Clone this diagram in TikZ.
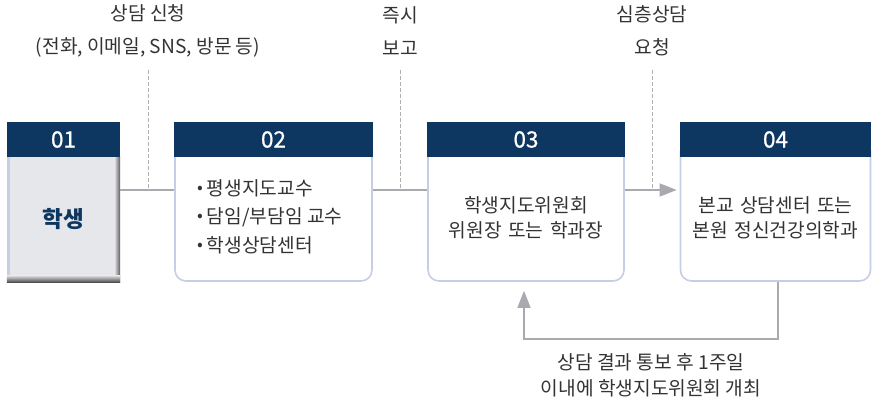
\documentclass[tikz,border=0pt]{standalone}
\usepackage{fontspec}
\setmainfont{Noto Sans CJK KR}
\newfontfamily\numfont{Noto Sans CJK KR}[FakeBold=0.8]
\usetikzlibrary{arrows.meta,calc}
\definecolor{navy}{RGB}{13,54,96}
\definecolor{txt}{RGB}{51,51,51}
\definecolor{rim}{RGB}{200,205,230}
\definecolor{conn}{RGB}{168,170,176}
\definecolor{dashc}{RGB}{175,175,175}
\definecolor{greyfill}{RGB}{230,231,235}
\newcommand{\bul}{{\fontsize{17}{17}\selectfont\raisebox{1.5pt}{•}}\hspace{4pt}}
\tikzset{
  hdr/.style={fill=navy, text=white, minimum height=35pt, inner sep=0pt, font=\numfont\fontsize{22.5}{24}\selectfont},
  bodybox/.style={draw=rim, line width=1.6pt, fill=white, rounded corners=11pt, inner sep=0pt, minimum height=141pt},
  conline/.style={draw=conn, line width=1.4pt},
  dashline/.style={draw=dashc, line width=0.9pt, dash pattern=on 3.5pt off 2.5pt},
  lbl/.style={text=txt, align=center, font=\fontsize{19.2}{33}\selectfont, inner sep=0pt},
  btxt/.style={text=txt, font=\fontsize{19.2}{28}\selectfont, inner sep=0pt},
  tip/.style={-{Triangle[length=17pt,width=13pt]}}
}
\begin{document}
\begin{tikzpicture}[x=1pt,y=-1pt]
\useasboundingbox (0,0) rectangle (873,402);
% box 01
\node[fill=greyfill, minimum width=113pt, minimum height=125pt, inner sep=0pt] (b1) at (63.5,219.5) {};
\shade[left color=greyfill, right color=black!65] ($(b1.north east)+(-6,0)$) rectangle (b1.south east);
\shade[top color=greyfill, bottom color=black!70] ($(b1.south west)+(0,-7)$) rectangle (b1.south east);
\fill[rim] (b1.north west) rectangle ($(b1.south west)+(3,-7)$);
\node[text=navy, font=\fontsize{22.5}{26}\selectfont\bfseries] (t1) at (b1.center) {학생};
\node[hdr, minimum width=113pt] (h1) at (63.5,139.5) {01};
% box 02
\node[bodybox, minimum width=197pt] (b2) at (273.5,210.5) {};
\node[hdr, minimum width=198.6pt] (h2) at (273.5,139.5) {02};
\node[btxt, anchor=west] (t2a) at (197,188) {\bul 평생지도교수};
\node[btxt, anchor=west] (t2b) at (197,217) {\bul 담임/부담임 교수};
\node[btxt, anchor=west] (t2c) at (197,245) {\bul 학생상담센터};
% box 03
\node[bodybox, minimum width=196pt] (b3) at (526,210.5) {};
\node[hdr, minimum width=197.6pt] (h3) at (526,139.5) {03};
\node[lbl, text width=190pt, font=\fontsize{19.2}{25}\selectfont] (t3) at (526,218) {학생지도위원회\\위원장 또는 학과장};
% box 04
\node[bodybox, minimum width=190pt] (b4) at (775.5,210.5) {};
\node[hdr, minimum width=191.6pt] (h4) at (775.5,139.5) {04};
\node[lbl, text width=190pt, font=\fontsize{19.2}{25}\selectfont] (t4) at (775.5,218) {본교 상담센터 또는\\본원 정신건강의학과};
% connectors
\draw[conline] (b1.east |- 0,190) -- (b2.west |- 0,190);
\draw[conline] (b2.east |- 0,190) -- (b3.west |- 0,190);
\draw[conline, tip] (b3.east |- 0,190) -- ($(b4.west |- 0,190)+(-3,0)$);
% labels above
\node[lbl] (l1) at (148,31) {상담 신청\\(전화, 이메일, SNS, 방문 등)};
\node[lbl] (l2) at (400,31) {즉시\\보고};
\node[lbl] (l3) at (652,31) {심층상담\\요청};
\draw[dashline] (l1.south |- 0,70) -- (l1.south |- 0,190);
\draw[dashline] (l2.south |- 0,70) -- (l2.south |- 0,190);
\draw[dashline] (l3.south |- 0,70) -- (l3.south |- 0,190);
% feedback loop
\coordinate (c1) at ($(b4.south)+(2.5,0)$);
\coordinate (c2) at ($(b3.south)+(-2,9)$);
\draw[conline, tip] (c1) -- (c1 |- 0,339) -- (c2 |- 0,339) -- (c2);
\node[lbl, font=\fontsize{19.2}{26}\selectfont] (l4) at (651,375) {상담 결과 통보 후 1주일\\이내에 학생지도위원회 개최};
\end{tikzpicture}
\end{document}
